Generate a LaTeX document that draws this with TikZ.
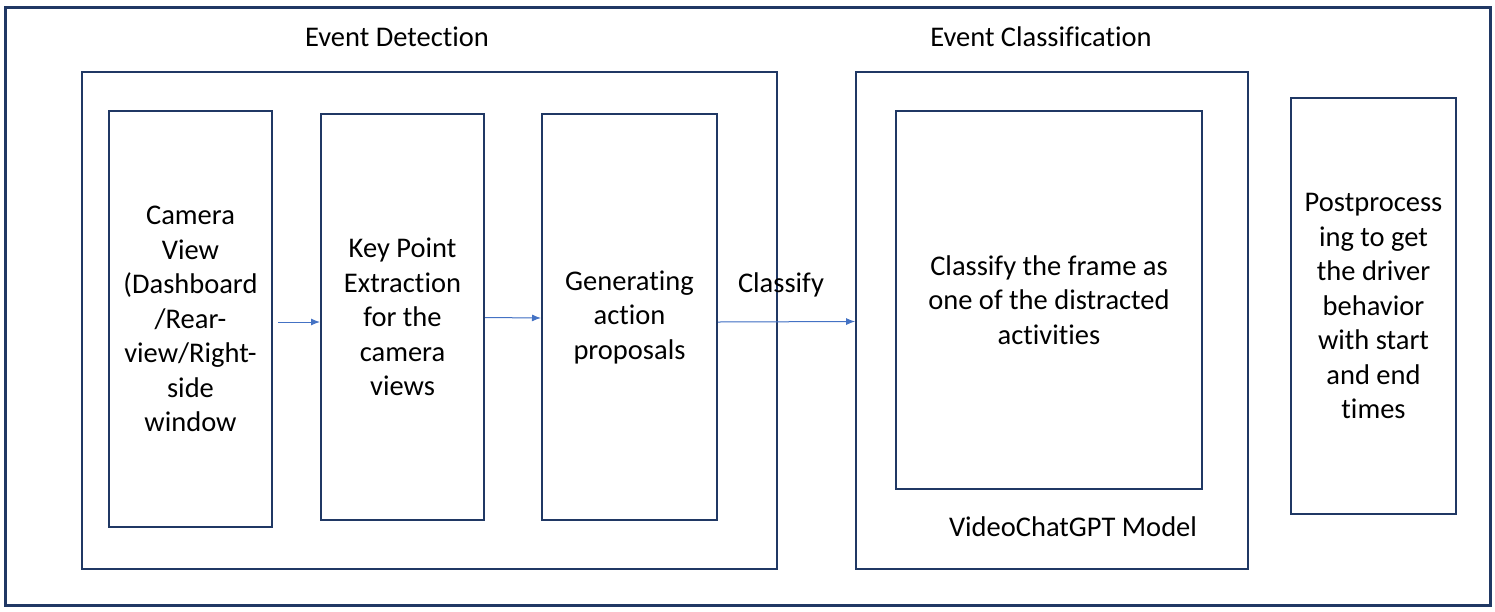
\documentclass[tikz,border=0pt]{standalone}
\usepackage{fontspec}
\setmainfont[Ligatures=NoCommon]{Carlito}
\usetikzlibrary{arrows.meta,positioning,calc}
\definecolor{boxnavy}{HTML}{203864}
\definecolor{arrblue}{HTML}{4472C4}
\tikzset{
  stagebox/.style={rectangle,draw=boxnavy,line width=2pt,inner sep=0pt,align=center},
  groupbox/.style={rectangle,draw=boxnavy,line width=1.8pt,inner sep=0pt},
  flowarr/.style={-{Latex[length=9pt,width=7pt]},draw=arrblue,fill=arrblue,line width=1pt},
  steplab/.style={inner sep=0pt}
}

\begin{document}
\begin{tikzpicture}[x=1pt,y=-1pt,font=\fontsize{28.5}{34.5}\selectfont]
  \useasboundingbox (0,0) rectangle (1495,611);
  \node[groupbox,line width=3pt,minimum width=1485pt,minimum height=598pt] (frame) at (747.5,306) {};
  % containers
  \node[groupbox,minimum width=695pt,minimum height=497pt] (detect) at (429.5,320.5) {};
  \node[groupbox,minimum width=392pt,minimum height=497pt] (classgrp) at (1052,320.5) {};
  \node[steplab] (detectlab) at (397,37) {Event Detection};
  \node[steplab] (classlab) at (1041,37) {Event Classification};
  % stages
  \node[stagebox,minimum width=163pt,minimum height=416pt] (cam) at (190.5,319)
    {Camera\\View\\(Dashboard\\/Rear-\\view/Right-\\side\\window};
  \node[stagebox,minimum width=163pt,minimum height=406pt] (kp) at (402.5,317)
    {Key Point\\Extraction\\for the\\camera\\views};
  \node[stagebox,minimum width=175pt,minimum height=406pt] (gen) at (629.5,317)
    {Generating\\action\\proposals};
  \node[stagebox,minimum width=306pt,minimum height=378pt] (cls) at (1049,300)
    {Classify the frame as\\one of the distracted\\activities};
  \node[stagebox,minimum width=165pt,minimum height=416pt] (post) at (1373.5,306)
    {Postprocess\\ing to get\\the driver\\behavior\\with start\\and end\\times};
  \node[steplab] (vcgpt) at (1073,527) {VideoChatGPT Model};
  \node[steplab] (clslab) at (781,285) {Classify};
  % arrows
  \draw[flowarr,shorten <=5pt] ([yshift=-3pt]cam.east) -- ([yshift=-5pt]kp.west);
  \draw[flowarr] ([yshift=-0.5pt]kp.east) -- ([yshift=-1pt]gen.west);
  \draw[flowarr] ([yshift=-5pt]gen.east) -- ([yshift=-1pt]classgrp.west);
\end{tikzpicture}
\end{document}
